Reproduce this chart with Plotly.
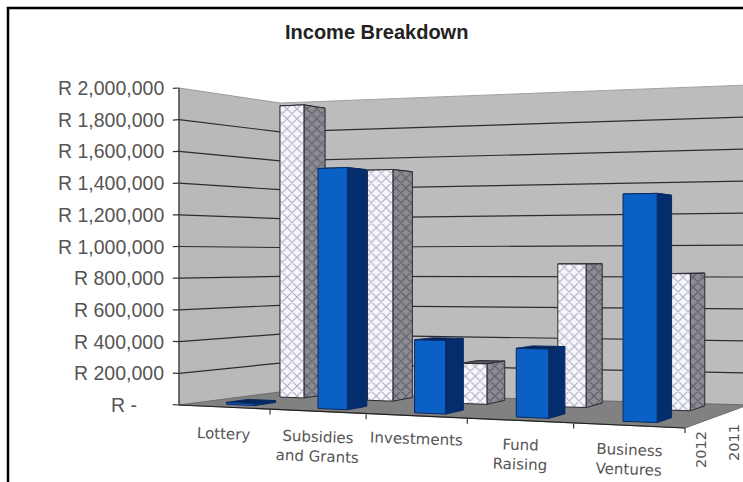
import numpy as np
import plotly.graph_objects as go

categories = ["Lottery", "Subsidies<br>and Grants", "Investments", "Fund<br>Raising", "Business<br>Ventures"]
series_names = ["2012", "2011"]
values_2012 = [12000, 1475000, 435000, 398000, 1280000]
values_2011 = [1940000, 1496000, 255000, 884000, 825000]
axis_ticks = [0, 200000, 400000, 600000, 800000, 1000000, 1200000, 1400000, 1600000, 1800000, 2000000]
tick_labels = ["R -", "R 200,000", "R 400,000", "R 600,000", "R 800,000", "R 1,000,000",
               "R 1,200,000", "R 1,400,000", "R 1,600,000", "R 1,800,000", "R 2,000,000"]

W, H = 743, 482
VMAX = 2000000
N = len(categories)
ROW_DEPTH = {"2012": 0.17, "2011": 0.70}
LABEL_Y = [434, 446.5, 439, 454.5, 460]


def proj(u, v, h=0.0):
    """Screen position of a point: category position u, depth v (0 front, 1 back), value h."""
    fx = 179 + 88.45 * u + 2.55 * u * u
    depth = 101 - 7.6 * u
    x = fx + depth * v
    y = (405 + 4.6 * u) - (13 + 2.0 * u) * v
    scale = 317 + 0.00527 * (x - 179) + 2.195 * (y - 405)
    return x, y - scale * h / VMAX


def poly(corners, **kw):
    pts = [proj(*c) for c in corners]
    xs = [p[0] for p in pts] + [pts[0][0]]
    ys = [p[1] for p in pts] + [pts[0][1]]
    return go.Scatter(x=xs, y=ys, mode="lines", fill="toself", hoverinfo="skip", showlegend=False, **kw)


def seg(a, b, color="#222", width=1):
    pa, pb = proj(*a), proj(*b)
    return go.Scatter(x=[pa[0], pb[0]], y=[pa[1], pb[1]], mode="lines", hoverinfo="skip",
                      showlegend=False, line=dict(color=color, width=width))


fig = go.Figure()

# Walls and floor
fig.add_trace(poly([(0, 0, 0), (0, 1, 0), (0, 1, VMAX), (0, 0, VMAX)],
                   fillcolor="#b9b9b9", line=dict(color="#9a9a9a", width=1)))
fig.add_trace(poly([(0, 1, 0), (N, 1, 0), (N, 1, VMAX), (0, 1, VMAX)],
                   fillcolor="#bcbcbc", line=dict(color="#a2a2a2", width=1)))
fig.add_trace(poly([(0, 0, 0), (N, 0, 0), (N, 1, 0), (0, 1, 0)],
                   fillcolor="#818181", line=dict(color="#6f6f6f", width=1)))

# Gridlines along both walls
for t in axis_ticks[1:-1]:
    fig.add_trace(seg((0, 0, t), (0, 1, t), "#2c2c2c", 1.2))
    fig.add_trace(seg((0, 1, t), (N, 1, t), "#2c2c2c", 1.2))

# Value axis and category axis with their tick marks
fig.add_trace(seg((0, 0, 0), (0, 0, VMAX), "#333", 1.2))
fig.add_trace(seg((0, 0, 0), (N, 0, 0), "#222", 1.2))
for t in axis_ticks:
    fig.add_trace(seg((-0.07, 0, t), (0, 0, t), "#333", 1.2))
for i in range(1, N + 1):
    tx, ty = proj(i, 0)
    fig.add_trace(go.Scatter(x=[tx, tx], y=[ty, ty + 5], mode="lines", hoverinfo="skip", showlegend=False,
                             line=dict(color="#333", width=1.2)))


def bar(center_u, front_v, half_w, value, front, side, top, edge, hatched):
    bar_depth = 0.22
    u0, u1 = center_u - half_w, center_u + half_w
    v0, v1 = front_v, front_v + bar_depth
    front_kw = dict(line=dict(color=edge, width=1))
    side_kw = dict(line=dict(color=edge, width=1))
    if hatched:
        front_kw["fillpattern"] = dict(shape="x", fgcolor="#6a6a74", bgcolor=front, size=7, solidity=0.3)
        side_kw["fillpattern"] = dict(shape="x", fgcolor="#3a3a42", bgcolor=side, size=7, solidity=0.35)
    else:
        front_kw["fillcolor"] = front
        side_kw["fillcolor"] = side
    fig.add_trace(poly([(u0, v0, value), (u1, v0, value), (u1, v1, value), (u0, v1, value)],
                       fillcolor=top, line=dict(color=edge, width=1)))
    fig.add_trace(poly([(u1, v0, 0), (u1, v1, 0), (u1, v1, value), (u1, v0, value)], **side_kw))
    fig.add_trace(poly([(u0, v0, 0), (u1, v0, 0), (u1, v0, value), (u0, v0, value)], **front_kw))


# Back row first so the front row overlaps it
for i, val in enumerate(values_2011):
    bar(i + 0.5, ROW_DEPTH["2011"], 0.14, val, "#f6f6ff", "#8c8c94", "#55555c", "#2a2a30", True)
for i, val in enumerate(values_2012):
    bar(i + 0.5, ROW_DEPTH["2012"], 0.155, val, "#0b60c6", "#042d6e", "#03245a", "#0a2a60", False)

annotations = []
# Value labels
for t, lab in zip(axis_ticks, tick_labels):
    x, y = proj(0, 0, t)
    annotations.append(dict(x=x - 13 if t else x - 40, y=y, text=lab, showarrow=False, xanchor="right",
                            font=dict(family="Liberation Sans", size=19.5, color="#555555")))

# Category labels sit under the front edge, following its slope
for i, lab in enumerate(categories):
    x, _ = proj(i + 0.5, 0)
    annotations.append(dict(x=x, y=LABEL_Y[i], text=lab, showarrow=False, textangle=2,
                            font=dict(family="DejaVu Sans", size=15, color="#555555")))

# Depth labels
for name, lx, ly in zip(series_names, [701, 734], [450, 443]):
    annotations.append(dict(x=lx, y=ly, text=name, showarrow=False, textangle=-90,
                            font=dict(family="DejaVu Sans", size=14.5, color="#555555")))

annotations.append(dict(x=376, y=32, text="<b>Income Breakdown</b>", showarrow=False,
                        font=dict(family="Liberation Sans", size=20, color="#222222")))

# Chart frame
fig.add_trace(go.Scatter(x=[8, 8, W], y=[H, 8, 8], mode="lines", hoverinfo="skip", showlegend=False,
                         line=dict(color="#000000", width=2.5)))

fig.update_layout(
    width=W, height=H, margin=dict(l=0, r=0, t=0, b=0),
    paper_bgcolor="#ffffff", plot_bgcolor="#ffffff", showlegend=False,
    annotations=annotations,
    xaxis=dict(range=[0, W], visible=False, fixedrange=True),
    yaxis=dict(range=[H, 0], visible=False, fixedrange=True),
)

fig.write_html("out.html")
